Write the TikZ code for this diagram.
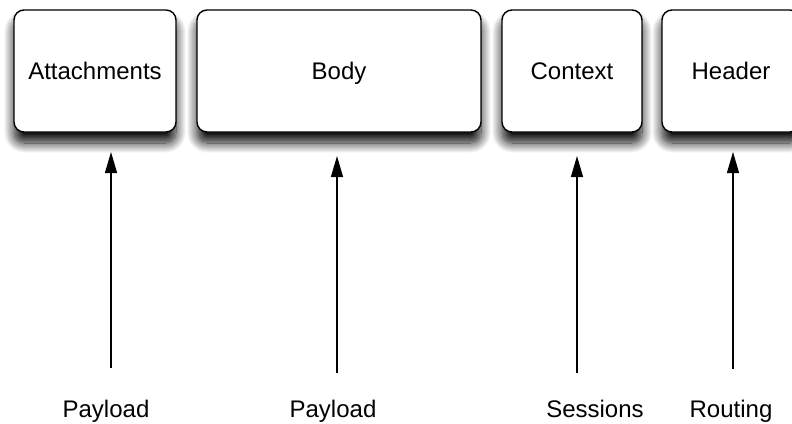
\documentclass[tikz,border=0pt]{standalone}
\usepackage{fontspec}
\setmainfont{Liberation Sans}
\usetikzlibrary{arrows.meta,shadows.blur}

\tikzset{
  part/.style={draw, line width=1.4pt, rounded corners=10pt, fill=white,
    minimum height=122pt, font=\fontsize{24}{28}\selectfont,
    text height=17pt, text depth=1pt,
    blur shadow={shadow xshift=0pt, shadow yshift=-11pt,
      shadow blur radius=10pt, shadow blur steps=14, shadow opacity=95}},
  purpose/.style={font=\fontsize{24}{28}\selectfont, anchor=base},
  feed/.style={line width=1.3pt, -{Triangle[length=21pt,width=12pt]}}
}

\begin{document}
\begin{tikzpicture}[x=1pt,y=-1pt]
    \useasboundingbox (0,0) rectangle (792,423);

    \node[part, minimum width=162pt] (att) at (95,71) {Attachments};
    \node[part, minimum width=284pt] (body) at (339,71) {Body};
    \node[part, minimum width=140pt] (ctx) at (572,71) {Context};
    \node[part, minimum width=138pt] (hdr) at (731,71) {Header};

    \coordinate (a0) at (111,368);
    \coordinate (a1) at (111,152);
    \coordinate (b0) at (337,373);
    \coordinate (b1) at (337,156);
    \coordinate (c0) at (577,373);
    \coordinate (c1) at (577,156);
    \coordinate (h0) at (733,369);
    \coordinate (h1) at (733,152);

    \draw[feed] (a0) -- (a1);
    \draw[feed] (b0) -- (b1);
    \draw[feed] (c0) -- (c1);
    \draw[feed] (h0) -- (h1);

    \node[purpose] (pay1) at (106,417) {Payload};
    \node[purpose] (pay2) at (333,417) {Payload};
    \node[purpose] (sess) at (595,417) {Sessions};
    \node[purpose] (rout) at (731,417) {Routing};
\end{tikzpicture}
\end{document}
